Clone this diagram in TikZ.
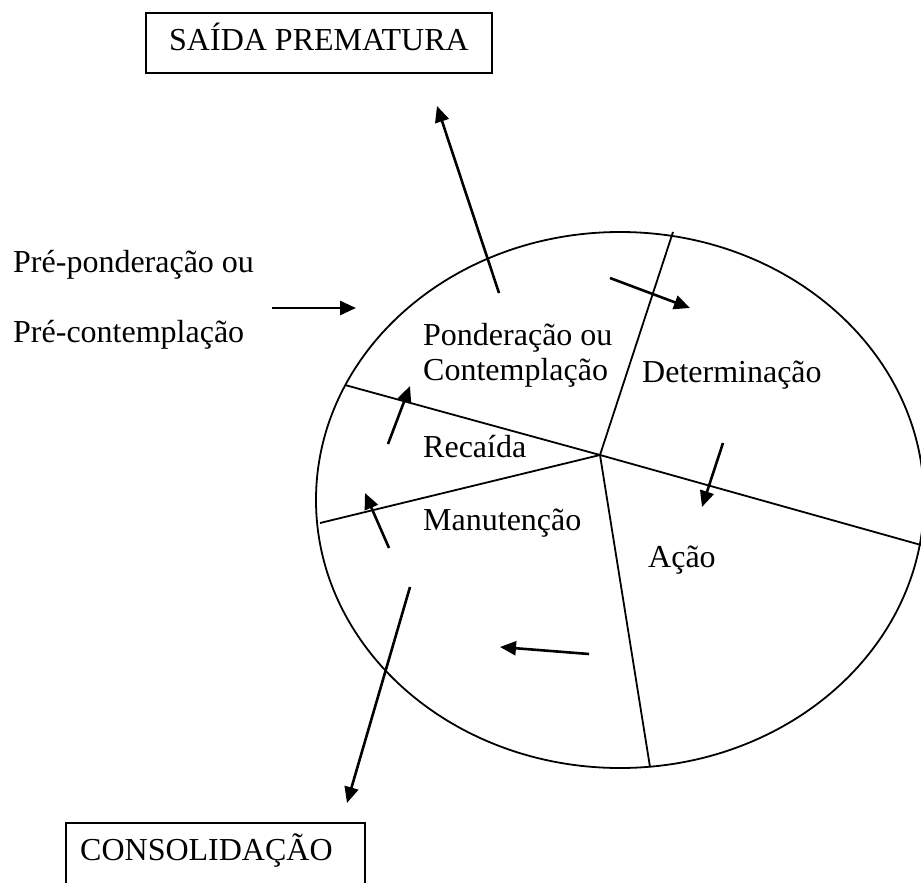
\documentclass[tikz,border=0pt]{standalone}
\usepackage{fontspec}
\setmainfont{Liberation Serif}
\usetikzlibrary{arrows.meta}
\tikzset{
  lbl/.style={inner sep=0pt, anchor=base west, font=\fontsize{32pt}{35pt}\selectfont},
  thinline/.style={line width=1.8pt},
  arr/.style={line width=2.6pt, -{Triangle[length=16pt,width=14pt]}},
  boxline/.style={line width=2pt}
}
\begin{document}
\begin{tikzpicture}[x=1pt,y=-1pt]
\useasboundingbox (0,0) rectangle (921,883);
% top box
\node[draw, boxline, minimum width=346pt, minimum height=60pt, inner sep=0pt,
      text height=21.2pt, text depth=7pt, font=\fontsize{32pt}{35pt}\selectfont]
      (saida) at (319,43) {SAÍDA PREMATURA};
% bottom open box
\draw[boxline] (66,890) -- (66,823) -- (365,823) -- (365,890);
\node[lbl] (consol) at (80,860) {CONSOLIDAÇÃO};
% ellipse and dividers
\coordinate (ec) at (620,500);
\draw[thinline] (ec) ellipse [x radius=304, y radius=268];
\coordinate (c) at (600,455);
\coordinate (d1) at (673,232);
\coordinate (d2) at (921,545);
\coordinate (d3) at (650,767);
\coordinate (d4) at (320,523);
\coordinate (d5) at (345,385);
\draw[thinline] (c) -- (d1);
\draw[thinline] (c) -- (d2);
\draw[thinline] (c) -- (d3);
\draw[thinline] (c) -- (d4);
\draw[thinline] (c) -- (d5);
% labels
\node[lbl] (pre1) at (13,272) {Pré-ponderação ou};
\node[lbl] (pre2) at (13,342) {Pré-contemplação};
\node[lbl] (pond1) at (423,345) {Ponderação ou};
\node[lbl] (pond2) at (423,380) {Contemplação};
\node[lbl] (det) at (642,382) {Determinação};
\node[lbl] (rec) at (423,457) {Recaída};
\node[lbl] (man) at (423,530) {Manutenção};
\node[lbl] (acao) at (648,567) {Ação};
% arrows
\coordinate (a1s) at (499,293); \coordinate (a1e) at (437,106);
\coordinate (a2s) at (272,308); \coordinate (a2e) at (356,308);
\coordinate (a3s) at (610,278); \coordinate (a3e) at (690,308);
\coordinate (a4s) at (723,443); \coordinate (a4e) at (702,507);
\coordinate (a5s) at (589,654); \coordinate (a5e) at (500,647);
\coordinate (a6s) at (389,548); \coordinate (a6e) at (365,493);
\coordinate (a7s) at (388,444); \coordinate (a7e) at (410,386);
\coordinate (a8s) at (410,587); \coordinate (a8e) at (347,803);
\draw[arr] (a1s) -- (a1e);
\draw[arr] (a2s) -- (a2e);
\draw[arr] (a3s) -- (a3e);
\draw[arr] (a4s) -- (a4e);
\draw[arr] (a5s) -- (a5e);
\draw[arr] (a6s) -- (a6e);
\draw[arr] (a7s) -- (a7e);
\draw[arr] (a8s) -- (a8e);
\end{tikzpicture}
\end{document}
